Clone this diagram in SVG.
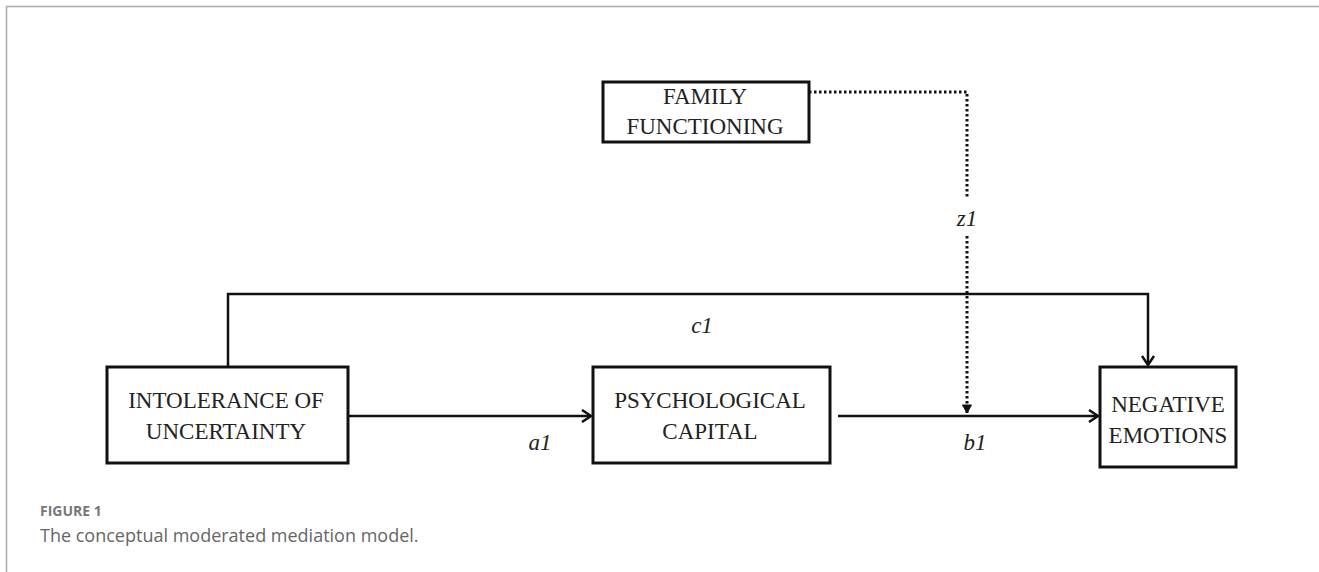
<svg xmlns="http://www.w3.org/2000/svg" width="1319" height="572" viewBox="0 0 1319 572">
<defs>
<style>
.box{fill:#fff;stroke:#111;stroke-width:3}
.lbl{font-family:"Liberation Serif","Times New Roman",serif;font-size:23px;fill:#222;text-anchor:middle}
.it{font-family:"Liberation Serif","Times New Roman",serif;font-size:23px;font-style:italic;fill:#222;text-anchor:middle}
.con{fill:none;stroke:#111;stroke-width:2.5}
.dot{fill:none;stroke:#111;stroke-width:3;stroke-dasharray:2.5 2.5}
.cap1{font-family:"Open Sans","Noto Sans",sans-serif;font-size:14px;font-weight:bold;fill:#777}
.cap2{font-family:"Open Sans","Noto Sans",sans-serif;font-size:18px;fill:#666}
</style>
<marker id="arr" markerWidth="14" markerHeight="14" refX="11" refY="7" orient="auto" markerUnits="userSpaceOnUse">
<path d="M2,1 L11,7 L2,13" fill="none" stroke="#111" stroke-width="2.5"/>
</marker>
<marker id="arrs" markerWidth="12" markerHeight="12" refX="10" refY="6" orient="auto" markerUnits="userSpaceOnUse">
<path d="M2,1.5 L10,6 L2,10.5 Z" fill="#111" stroke="#111" stroke-width="1"/>
</marker>
</defs>
<rect x="0" y="0" width="1319" height="572" fill="#fff"/>
<path d="M6.5,572 V6.5 H1319" fill="none" stroke="#aaa" stroke-width="1.5"/>
<g id="connectors">
<path class="con" d="M228,367 V294 H1148 V365" marker-end="url(#arr)"/>
<path class="con" d="M348,416 H591" marker-end="url(#arr)"/>
<path class="con" d="M838,416 H1098" marker-end="url(#arr)"/>
<path class="dot" d="M809,92 H967 V197"/>
<path class="dot" d="M967,236 V413" marker-end="url(#arrs)"/>
<text class="it" x="967" y="226">z1</text>
<text class="it" x="540" y="450">a1</text>
<text class="it" x="975" y="450">b1</text>
<text class="it" x="702" y="333">c1</text>
</g>
<g id="family">
<rect class="box" x="603" y="82" width="206" height="60"/>
<text class="lbl" x="705" y="104">FAMILY</text>
<text class="lbl" x="705" y="134">FUNCTIONING</text>
</g>
<g id="intolerance">
<rect class="box" x="107" y="367" width="241" height="96"/>
<text class="lbl" x="226" y="408">INTOLERANCE OF</text>
<text class="lbl" x="226" y="439">UNCERTAINTY</text>
</g>
<g id="psycap">
<rect class="box" x="593" y="367" width="237" height="96"/>
<text class="lbl" x="710" y="408">PSYCHOLOGICAL</text>
<text class="lbl" x="710" y="439">CAPITAL</text>
</g>
<g id="negative">
<rect class="box" x="1100" y="367" width="136" height="100"/>
<text class="lbl" x="1168" y="412">NEGATIVE</text>
<text class="lbl" x="1168" y="443">EMOTIONS</text>
</g>
<g id="caption">
<text class="cap1" x="40" y="516">FIGURE 1</text>
<text class="cap2" x="40" y="542">The conceptual moderated mediation model.</text>
</g>
</svg>
